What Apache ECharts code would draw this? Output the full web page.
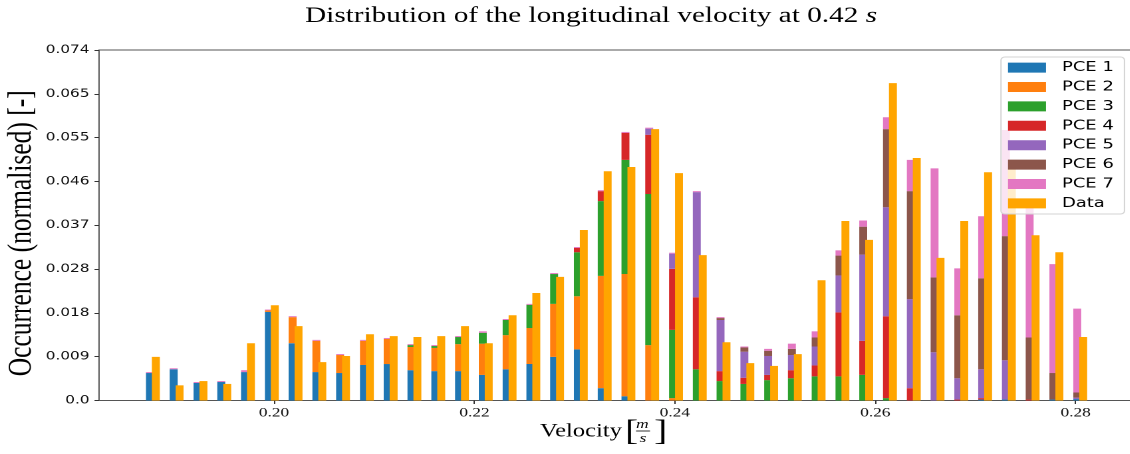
<!DOCTYPE html>
<html>
<head>
<meta charset="utf-8">
<script src="https://cdn.jsdelivr.net/npm/echarts@6/dist/echarts.min.js"></script>
<style>
html,body{margin:0;padding:0;background:#fff;overflow:hidden}
#wrap{width:1130px;height:454px;overflow:hidden;position:relative}
#c{height:454px;transform-origin:0 0}
</style>
</head>
<body>
<div id="wrap"><div id="c"></div></div>
<script>
// ---------------- data ----------------
const velocity = [0.18761,0.18998,0.19236,0.19473,0.19710,0.19948,0.20185,0.20422,0.20659,0.20897,
  0.21134,0.21371,0.21609,0.21846,0.22083,0.22321,0.22558,0.22795,0.23032,0.23270,
  0.23507,0.23744,0.23982,0.24219,0.24456,0.24694,0.24931,0.25168,0.25405,0.25643,
  0.25880,0.26117,0.26355,0.26592,0.26829,0.27067,0.27304,0.27541,0.27778,0.28016];

const pce1 = [0.0058,0.0066,0.0037,0.0039,0.0060,0.0187,0.0121,0.0060,0.0058,0.0075,
  0.0077,0.0064,0.0062,0.0062,0.0054,0.0066,0.0077,0.0092,0.0108,0.0026,
  0.0009,0,0,0,0,0,0,0,0,0,
  0,0,0,0,0,0.0002,0.0002,0,0.0002,0.0003];
const pce2 = [0,0,0,0,0,0.0003,0.0055,0.0066,0.0038,0.0051,
  0.0053,0.0049,0.0049,0.0057,0.0066,0.0072,0.0076,0.0112,0.0112,0.0237,
  0.0258,0.0117,0.0005,0,0,0,0,0,0,0,
  0,0,0,0,0,0,0,0,0,0];
const pce3 = [0,0,0,0,0,0,0,0,0,0,
  0,0.0004,0.0004,0.0015,0.0023,0.0032,0.0049,0.0063,0.0093,0.0158,
  0.0241,0.0319,0.0144,0.0066,0.0041,0.0035,0.0043,0.0047,0.0051,0.0051,
  0.0054,0.0005,0,0,0,0,0,0,0,0];
const pce4 = [0,0,0,0,0,0,0,0,0,0,
  0,0,0,0,0,0,0,0,0.0009,0.0021,
  0.0057,0.0125,0.0129,0.0152,0.0021,0.0013,0.0011,0.0017,0.0023,0.0135,
  0.0072,0.0173,0.0026,0,0.0002,0.0003,0,0.0002,0,0];
const pce5 = [0,0,0,0,0,0,0,0,0,0,
  0,0,0,0,0,0,0,0,0,0,
  0,0.0013,0.0032,0.0222,0.0108,0.0055,0.0040,0.0032,0.0040,0.0078,
  0.0182,0.0230,0.0188,0.0102,0.0045,0.0061,0.0083,0,0,0.0003];
const pce6 = [0,0,0,0,0,0,0,0,0,0,
  0,0,0,0,0,0,0,0,0,0,
  0,0,0,0,0.0004,0.0009,0.0011,0.0013,0.0019,0.0042,
  0.0059,0.0165,0.0228,0.0158,0.0133,0.0192,0.0262,0.0131,0.0056,0.0011];
const pce7 = [0.0002,0.0002,0.0002,0.0002,0.0004,0.0002,0.0002,0.0002,0.0002,0.0002,
  0.0002,0.0002,0.0002,0.0002,0.0003,0.0002,0.0002,0.0002,0.0002,0.0002,
  0.0002,0.0002,0.0002,0.0002,0.0002,0.0002,0.0004,0.0011,0.0013,0.0011,
  0.0013,0.0025,0.0066,0.0230,0.0099,0.0131,0.0224,0.0275,0.0230,0.0177];
const measured = [0.0092,0.0032,0.0041,0.0035,0.0121,0.0201,0.0157,0.0081,0.0094,0.0140,
  0.0136,0.0134,0.0136,0.0157,0.0121,0.0180,0.0227,0.0261,0.0360,0.0484,
  0.0493,0.0573,0.0480,0.0307,0.0123,0.0079,0.0073,0.0098,0.0254,0.0379,
  0.0339,0.0670,0.0512,0.0301,0.0379,0.0482,0.0490,0.0349,0.0313,0.0134];

const seriesNames = ['PCE 1','PCE 2','PCE 3','PCE 4','PCE 5','PCE 6','PCE 7','Data'];
const xTicks = [0.20,0.22,0.24,0.26,0.28];
const xTickLabels = ['0.20','0.22','0.24','0.26','0.28'];
const yTickLabels = ['0.0','0.009','0.018','0.028','0.037','0.046','0.055','0.065','0.074'];

// ---------------- layout / style ----------------
const S = 1.33;                 // horizontal stretch of the reference picture
const X = px => px / S;         // picture px -> css px
const colors = ['#1f77b4','#ff7f0e','#2ca02c','#d62728','#9467bd','#8c564b','#e377c2','#ffa500'];
const BAR_W = 0.000791;         // bar width in axis units
const DATA_SHIFT = 0.000593;    // offset of the Data bar
const Y_MAX = 0.074, Y_STEP = 0.00925;
const X_MIN = 0.18253, PX_PER_UNIT = 10015;
const GRID_RIGHT_PX = -3;
const X_MAX = X_MIN + (1130 - GRID_RIGHT_PX - 99) / PX_PER_UNIT;

const el = document.getElementById('c');
el.style.width = (1130 / S) + 'px';
el.style.transform = 'scaleX(' + S + ')';
const chart = echarts.init(el, null, {devicePixelRatio: 2});

const pceSets = [pce1,pce2,pce3,pce4,pce5,pce6,pce7];
const base = velocity.map(() => 0);
function makeRender(shift) {
  return function (params, api) {
    const x = api.value(0), b = api.value(1), v = api.value(2);
    if (!(v > 0)) return null;
    const p0 = api.coord([x + shift, b]);
    const p1 = api.coord([x + shift, b + v]);
    const w = api.size([BAR_W, 0])[0];
    return {type: 'rect', shape: {x: p0[0] - w / 2, y: p1[1], width: w, height: p0[1] - p1[1]},
      style: {fill: api.visual('color')}};
  };
}
const series = [];
pceSets.forEach((arr, k) => {
  const rows = velocity.map((x, i) => { const r = [x, base[i], arr[i]]; base[i] += arr[i]; return r; });
  series.push({type: 'custom', name: seriesNames[k], itemStyle: {color: colors[k]},
    renderItem: makeRender(0), encode: {x: 0, y: 2}, data: rows, silent: true});
});
series.push({type: 'custom', name: seriesNames[7], itemStyle: {color: colors[7]},
  renderItem: makeRender(DATA_SHIFT), encode: {x: 0, y: 2},
  data: velocity.map((x, i) => [x, 0, measured[i]]), silent: true});

const serif = 'Liberation Serif';
const sans = 'DejaVu Sans';

chart.setOption({
  animation: false,
  backgroundColor: '#fff',
  title: {
    text: '{n|Distribution of the longitudinal velocity at 0.42 }{i|s}',
    left: X(305), top: 5, padding: 0,
    textStyle: {fontWeight: 'normal', rich: {
      n: {fontFamily: serif, fontSize: 22, fontWeight: 'normal', color: '#000'},
      i: {fontFamily: serif, fontSize: 22, fontStyle: 'italic', fontWeight: 'normal', color: '#000'}
    }}
  },
  legend: {
    orient: 'vertical', left: X(1001), top: 57,
    itemWidth: X(38), itemHeight: 10, itemGap: 5.4,
    padding: [3.6, 8, 3.6, X(7)],
    icon: 'rect',
    backgroundColor: 'rgba(255,255,255,0.8)', borderColor: '#d4d4d4', borderWidth: 1, borderRadius: 3,
    textStyle: {fontFamily: sans, fontSize: 13.5, lineHeight: 14, color: '#000', padding: [0, 0, 0, 7]},
    data: seriesNames
  },
  grid: {left: X(99), right: X(GRID_RIGHT_PX), top: 50, bottom: 454 - 400.5, show: true,
    outerBoundsMode: 'none', containLabel: false,
    borderColor: '#555', borderWidth: 1, backgroundColor: 'transparent'},
  xAxis: {
    type: 'value', min: X_MIN, max: X_MAX,
    axisLine: {show: false},
    splitLine: {show: false},
    axisTick: {show: true, length: 3.5, customValues: xTicks, lineStyle: {color: '#333'}},
    axisLabel: {customValues: xTicks, margin: 6, fontFamily: serif, fontSize: 13, color: '#111',
      formatter: v => xTickLabels[xTicks.findIndex(t => Math.abs(t - v) < 1e-6)]}
  },
  yAxis: {
    type: 'value', min: 0, max: Y_MAX, interval: Y_STEP,
    axisLine: {show: false},
    splitLine: {show: false},
    axisTick: {show: true, length: X(4.5), lineStyle: {color: '#333'}},
    axisLabel: {margin: X(9.5), fontFamily: sans, fontSize: 11.5, color: '#111',
      formatter: v => yTickLabels[Math.round(v / Y_STEP)]},
    name: 'Occurrence (normalised) [-]', nameLocation: 'middle', nameRotate: 90, nameGap: 45,
    nameMoveOverlap: false,
    nameTextStyle: {fontFamily: serif, fontSize: 25.5, color: '#000', padding: [0, 16, 0, 0]}
  },
  graphic: [
    {type: 'text', left: X(540), top: 422, style: {text: 'Velocity', font: '18.5px "Liberation Serif"', fill: '#000'}},
    {type: 'text', left: X(625), top: 417, style: {text: '[', font: '30px "Liberation Serif"', fill: '#000'}},
    {type: 'text', left: X(636), top: 418, style: {text: 'm', font: 'italic 13px "Liberation Serif"', fill: '#000'}},
    {type: 'line', shape: {x1: X(636), y1: 431, x2: X(650), y2: 431}, style: {stroke: '#000', lineWidth: 0.8}},
    {type: 'text', left: X(639.5), top: 432, style: {text: 's', font: 'italic 13px "Liberation Serif"', fill: '#000'}},
    {type: 'text', left: X(654), top: 417, style: {text: ']', font: '30px "Liberation Serif"', fill: '#000'}}
  ],
  series: series
});
</script>
</body>
</html>
